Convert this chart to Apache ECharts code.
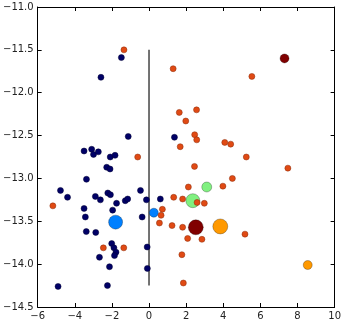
<!DOCTYPE html>
<html>
<head>
<meta charset="utf-8">
<script src="https://cdn.jsdelivr.net/npm/echarts@6/dist/echarts.min.js"></script>
<style>
  html, body { margin: 0; padding: 0; background: #fff; }
  #main { width: 344px; height: 322px; }
</style>
</head>
<body>
<div id="main"></div>
<script>
// small dots, left cluster (navy)
const navyX = [-1.49, -2.59, -1.12, -3.50, -3.09, -2.99, -2.73, -2.09, -1.83, -2.28, -2.10,
  -3.37, -4.77, -4.39, -2.89, -2.62, -2.22, -2.08, -1.75, -1.28, -1.15, -0.46, -0.14,
  -3.50, -1.96, -3.43, -0.37, -3.38, -2.87, -2.01, -1.89, -1.78, -1.86, -0.10, -2.67,
  -2.13, -0.09, -4.90, -2.24, 0.61, 1.37];
const navyY = [-11.59, -11.82, -12.51, -12.68, -12.66, -12.72, -12.69, -12.75, -12.73, -12.87, -12.89,
  -13.01, -13.14, -13.22, -13.21, -13.25, -13.17, -13.19, -13.29, -13.26, -13.24, -13.14, -13.25,
  -13.35, -13.37, -13.45, -13.45, -13.62, -13.63, -13.76, -13.81, -13.86, -13.90, -13.80, -13.92,
  -14.03, -14.05, -14.26, -14.25, -13.24, -12.52];

// small dots, right cluster (orange-red)
const orangeX = [-1.35, -0.61, -5.18, -2.46, -1.36, 1.30, 5.54, 1.63, 2.56, 1.98, 2.46, 2.57,
  1.68, 4.08, 4.40, 5.24, 2.45, 7.48, 4.49, 3.98, 2.12, 1.33, 1.81, 2.59, 2.98, 0.72,
  0.65, 0.56, 1.24, 1.81, 5.17, 2.08, 2.85, 1.77, 1.85];
const orangeY = [-11.50, -12.75, -13.32, -13.81, -13.81, -11.72, -11.81, -12.23, -12.20, -12.33, -12.49, -12.55,
  -12.63, -12.58, -12.60, -12.75, -12.86, -12.88, -13.00, -13.09, -13.10, -13.22, -13.24, -13.28, -13.29, -13.36,
  -13.43, -13.52, -13.55, -13.57, -13.65, -13.70, -13.71, -13.89, -14.22];

// big markers
const bigX = [-1.80, 0.26, 3.11, 2.36, 2.52, 3.84, 7.30, 8.55];
const bigY = [-13.51, -13.40, -13.10, -13.26, -13.57, -13.56, -11.60, -14.01];

// divider line
const lineX = [0, 0];
const lineY = [-11.5, -14.25];

const bigSize = [14, 9, 10, 14, 15, 15, 9, 9];
const bigColor = ['#0080ff', '#0080ff', '#80f080', '#80f080', '#800000', '#ff9900', '#800000', '#ff9900'];

const zip = (xs, ys) => xs.map((x, i) => [x, ys[i]]);
const minus = v => String(v).replace('-', '\u2212');

const font = { fontFamily: 'DejaVu Sans', fontSize: 10, color: '#222' };
const axisLine = { show: true, onZero: false, lineStyle: { color: '#000', width: 1 } };
const tick = { show: true, inside: true, length: 4, lineStyle: { color: '#000', width: 1 } };

const chart = echarts.init(document.getElementById('main'), null, { renderer: 'canvas' });

const option = {
  backgroundColor: '#fff',
  animation: false,
  grid: { left: 32, right: 7, top: 7, bottom: 15 },
  xAxis: [{
    type: 'value', min: -6, max: 10, interval: 2,
    axisLine: axisLine, axisTick: tick, splitLine: { show: false },
    axisLabel: Object.assign({ margin: 4, formatter: v => minus(v) }, font)
  }, {
    type: 'value', position: 'top', min: -6, max: 10, interval: 2,
    axisLine: axisLine, axisTick: tick, splitLine: { show: false },
    axisLabel: { show: false }
  }],
  yAxis: [{
    type: 'value', min: -14.5, max: -11, interval: 0.5,
    axisLine: axisLine, axisTick: tick, splitLine: { show: false },
    axisLabel: Object.assign({ margin: 4, formatter: v => minus(v.toFixed(1)) }, font)
  }, {
    type: 'value', position: 'right', min: -14.5, max: -11, interval: 0.5,
    axisLine: axisLine, axisTick: tick, splitLine: { show: false },
    axisLabel: { show: false }
  }],
  series: [
    {
      type: 'line', data: zip(lineX, lineY), symbol: 'none',
      lineStyle: { color: '#444', width: 1.5 }, z: 1
    },
    {
      type: 'scatter', z: 2,
      data: bigX.map((x, i) => ({
        value: [x, bigY[i]],
        symbolSize: bigSize[i],
        itemStyle: { color: bigColor[i], borderColor: 'rgba(0,0,0,0.45)', borderWidth: 0.6, opacity: 1 }
      }))
    },
    {
      type: 'scatter', z: 3, symbolSize: 6, data: zip(navyX, navyY),
      itemStyle: { color: '#000066', borderColor: '#000033', borderWidth: 0.5, opacity: 1 }
    },
    {
      type: 'scatter', z: 3, symbolSize: 6, data: zip(orangeX, orangeY),
      itemStyle: { color: '#e04a14', borderColor: '#8a2a08', borderWidth: 0.5, opacity: 1 }
    }
  ]
};

chart.setOption(option);
</script>
</body>
</html>
